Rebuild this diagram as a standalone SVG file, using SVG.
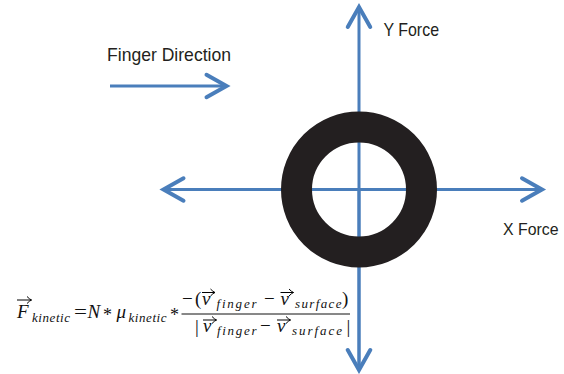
<svg xmlns="http://www.w3.org/2000/svg" width="564" height="374" viewBox="0 0 564 374">
  <defs>
    <marker id="chev" markerUnits="userSpaceOnUse" markerWidth="30" markerHeight="30" viewBox="-20 -12 24 24" refX="0" refY="0" orient="auto" overflow="visible">
      <path d="M-16,-9 L0,0 L-16,9" fill="none" stroke="#4a7ebb" stroke-width="3.2" stroke-linejoin="miter" stroke-linecap="round"/>
    </marker>
    <marker id="vec" markerUnits="userSpaceOnUse" markerWidth="10" markerHeight="10" viewBox="-6 -5 8 10" refX="0" refY="0" orient="auto" overflow="visible">
      <path d="M-4.5,-3.5 Q-2,-0.8 0,0 Q-2,0.8 -4.5,3.5" fill="none" stroke="#000" stroke-width="1"/>
    </marker>
    <style>
      .axis { stroke: #4a7ebb; stroke-width: 3; fill: none; marker-end: url(#chev); }
      .lbl { font-family: "Liberation Sans", Arial, sans-serif; font-size: 18.5px; fill: #231f20; }
      .m { font-family: "Liberation Serif", "Times New Roman", serif; font-size: 19px; fill: #111; }
      .i { font-style: italic; }
      .s { font-family: "Liberation Serif", "Times New Roman", serif; font-size: 13px; font-style: italic; fill: #111; }
      .ast { font-family: "Liberation Serif", "Times New Roman", serif; font-size: 18px; fill: #111; }
      .va { stroke: #000; stroke-width: 1; fill: none; marker-end: url(#vec); }
    </style>
  </defs>

  <rect x="0" y="0" width="564" height="374" fill="#ffffff"/>

  <g id="connectors">
    <line class="axis" x1="359" y1="370" x2="359" y2="7"/>
    <line class="axis" x1="359" y1="189.5" x2="359" y2="370"/>
    <line class="axis" x1="359" y1="189.5" x2="163.5" y2="189.5"/>
    <line class="axis" x1="359" y1="189.5" x2="542" y2="189.5"/>
    <line class="axis" x1="110" y1="86" x2="226.5" y2="86"/>
  </g>

  <g id="ring">
    <circle cx="359" cy="189.5" r="62.5" fill="none" stroke="#231f20" stroke-width="31"/>
  </g>

  <g id="finger-direction">
    <text class="lbl" x="107" y="60.5" textLength="124" lengthAdjust="spacingAndGlyphs">Finger Direction</text>
  </g>
  <g id="y-force">
    <text class="lbl" x="383.5" y="36" textLength="55.5" lengthAdjust="spacingAndGlyphs">Y Force</text>
  </g>
  <g id="x-force">
    <text class="lbl" x="503" y="235" style="font-size:17px" textLength="55.5" lengthAdjust="spacingAndGlyphs">X Force</text>
  </g>

  <g id="formula">
    <line class="va" x1="17" y1="300" x2="31.5" y2="300"/>
    <text class="m i" x="17" y="318">F</text>
    <text class="s" x="32" y="322" textLength="38" lengthAdjust="spacing">kinetic</text>
    <text class="m" x="74" y="318" textLength="13" lengthAdjust="spacingAndGlyphs">=</text>
    <text class="m i" x="87.5" y="318">N</text>
    <text class="ast" x="103" y="321">*</text>
    <text class="m i" x="116.5" y="318">μ</text>
    <text class="s" x="128.5" y="322" textLength="38" lengthAdjust="spacing">kinetic</text>
    <text class="ast" x="170" y="321">*</text>

    <line x1="181.5" y1="314" x2="350" y2="314" stroke="#111" stroke-width="1"/>

    <text class="m" x="182" y="305">−</text>
    <text class="m" x="195" y="305">(</text>
    <line class="va" x1="202" y1="292.5" x2="215" y2="292.5"/>
    <text class="m i" x="202" y="305">v</text>
    <text class="s" x="216.5" y="308" textLength="40" lengthAdjust="spacing">finger</text>
    <text class="m" x="264" y="305">−</text>
    <line class="va" x1="280.5" y1="292.5" x2="293.5" y2="292.5"/>
    <text class="m i" x="280.5" y="305">v</text>
    <text class="s" x="295" y="308" textLength="46.5" lengthAdjust="spacing">surface</text>
    <text class="m" x="342" y="305">)</text>

    <text class="m" x="195" y="333">|</text>
    <line class="va" x1="203" y1="320" x2="216.5" y2="320"/>
    <text class="m i" x="203" y="332">v</text>
    <text class="s" x="217" y="335" textLength="39.5" lengthAdjust="spacing">finger</text>
    <text class="m" x="260" y="332">−</text>
    <line class="va" x1="277" y1="320" x2="290.5" y2="320"/>
    <text class="m i" x="277" y="332">v</text>
    <text class="s" x="292" y="335" textLength="50" lengthAdjust="spacing">surface</text>
    <text class="m" x="346.5" y="333">|</text>
  </g>
</svg>
